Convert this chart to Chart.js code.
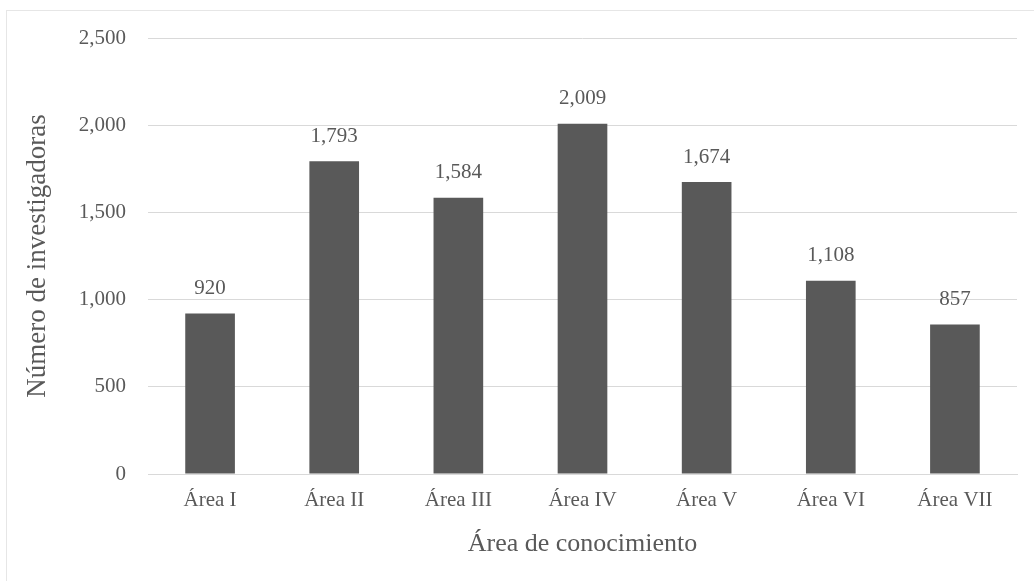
<!DOCTYPE html>
<html>
<head>
<meta charset="utf-8">
<script src="https://cdn.jsdelivr.net/npm/chart.js@4"></script>
<style>
  html, body { margin: 0; padding: 0; background: #fff; }
  #wrap { position: relative; width: 1034px; height: 581px; overflow: hidden; }
  #frame { position: absolute; left: 6px; top: 10px; width: 1060px; height: 600px; border: 1px solid #e6e6e6; box-sizing: border-box; }
  canvas { position: absolute; left: 0; top: 0; }
</style>
</head>
<body>
<div id="wrap">
  <div id="frame"></div>
  <canvas id="c" width="1034" height="581"></canvas>
</div>
<script>
const categories = ["Área I", "Área II", "Área III", "Área IV", "Área V", "Área VI", "Área VII"];
const values = [920, 1793, 1584, 2009, 1674, 1108, 857];
const yTicks = [0, 500, 1000, 1500, 2000, 2500];
const xTitle = "Área de conocimiento";
const yTitle = "Número de investigadoras";

const FONT = "'Liberation Serif', 'DejaVu Serif', serif";
const TXT = "#595959";

const fmt = v => v.toLocaleString("en-US");

const valueLabels = {
  id: "valueLabels",
  afterDatasetsDraw(chart) {
    const ctx = chart.ctx;
    const meta = chart.getDatasetMeta(0);
    ctx.save();
    ctx.font = "21px " + FONT;
    ctx.fillStyle = TXT;
    ctx.textAlign = "center";
    ctx.textBaseline = "middle";
    meta.data.forEach((bar, i) => {
      ctx.fillText(fmt(values[i]), bar.x, bar.y - 25);
    });
    ctx.restore();
  }
};

new Chart(document.getElementById("c"), {
  type: "bar",
  data: {
    labels: categories,
    datasets: [{
      data: values,
      backgroundColor: "#595959",
      borderWidth: 0,
      categoryPercentage: 1,
      barPercentage: 0.4
    }]
  },
  options: {
    responsive: false,
    animation: false,
    devicePixelRatio: 1,
    layout: { padding: { left: 0, right: 17, top: 38, bottom: 0 } },
    plugins: { legend: { display: false }, tooltip: { enabled: false } },
    scales: {
      x: {
        grid: { display: false, drawTicks: false },
        border: { display: true, color: "#d9d9d9", width: 1 },
        ticks: { color: TXT, font: { family: FONT, size: 21 }, padding: 14, maxRotation: 0 },
        title: { display: true, text: xTitle, color: TXT, font: { family: FONT, size: 26 }, padding: { top: 0, bottom: 21 } },
        afterFit(scale) { scale.height = 107; }
      },
      y: {
        min: 0, max: 2500,
        afterBuildTicks(scale) { scale.ticks = yTicks.map(v => ({ value: v })); },
        grid: { color: "#d9d9d9", drawTicks: false },
        border: { display: false },
        ticks: { color: TXT, font: { family: FONT, size: 21 }, padding: 22, callback: v => fmt(v) },
        title: { display: true, text: yTitle, color: TXT, font: { family: FONT, size: 27 }, padding: { top: 22, bottom: 0 } },
        afterFit(scale) { scale.width = 148; }
      }
    }
  },
  plugins: [valueLabels]
});
</script>
</body>
</html>
